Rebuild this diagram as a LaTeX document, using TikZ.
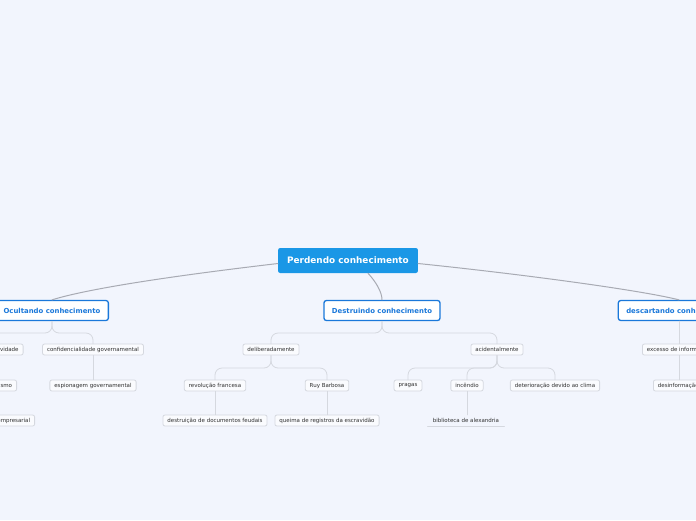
\documentclass[tikz,border=0pt]{standalone}
\usepackage{fontspec}
\setmainfont{DejaVu Sans}
\usepackage{xcolor}
\definecolor{mapbg}{HTML}{F2F5FD}
\definecolor{rootblue}{HTML}{1A97E6}
\definecolor{mainblue}{HTML}{1A78DA}
\definecolor{leafline}{HTML}{D5D8DF}
\definecolor{leaftext}{HTML}{303030}
\definecolor{rootlink}{HTML}{A8AAB3}

\begin{document}
\begin{tikzpicture}[x=1pt,y=-1pt,line cap=round,
  rootnode/.style={fill=rootblue,text=white,rounded corners=2pt,font=\fontsize{8.9}{10}\selectfont\bfseries,minimum height=25pt,inner xsep=9pt},
  mainnode/.style={draw=mainblue,fill=white,line width=1.3pt,rounded corners=2.5pt,text=mainblue,font=\fontsize{6.9}{8}\selectfont\bfseries,minimum height=20pt,inner xsep=8pt},
  leaf/.style={draw=leafline,fill=white!60!mapbg,line width=0.8pt,rounded corners=2pt,text=leaftext,font=\fontsize{5.5}{6}\selectfont,minimum height=11pt,inner xsep=4.5pt,inner ysep=0pt},
  bare/.style={text=leaftext,font=\fontsize{5.5}{6}\selectfont,minimum height=11pt,inner xsep=5pt,inner ysep=0pt},
  link/.style={draw=rootlink,line width=1pt},
  twig/.style={draw=leafline,line width=0.8pt,rounded corners=7pt}]
\fill[mapbg] (0,0) rectangle (696,520);
\clip (0,0) rectangle (696,520);

\node[rootnode] (perd) at (348,260.5) {Perdendo conhecimento};
\node[mainnode] (ocu) at (52,310.5) {Ocultando conhecimento};
\node[mainnode] (des) at (382,310.5) {Destruindo conhecimento};
\node[mainnode] (desc) at (679,310.5) {descartando conhecimento};

\node[leaf,anchor=east,text width=70pt,align=right] (vid) at (23.5,349.5) {vidade};
\node[leaf] (conf) at (93,349.5) {confidencialidade governamental};
\node[leaf,anchor=east,text width=70pt,align=right] (ism) at (17,385.5) {ismo};
\node[leaf] (esp) at (93,385.5) {espionagem governamental};
\node[leaf,anchor=east,text width=70pt,align=right] (emp) at (35,420.5) {empresarial};

\node[leaf] (delib) at (271,349.5) {deliberadamente};
\node[leaf] (acid) at (497,349.5) {acidentalmente};
\node[leaf] (rev) at (215,385.5) {revolução francesa};
\node[leaf] (ruy) at (327,385.5) {Ruy Barbosa};
\node[leaf] (feud) at (215,420.5) {destruição de documentos feudais};
\node[leaf] (esc) at (327,420.5) {queima de registros da escravidão};
\node[leaf] (prag) at (408,385.5) {pragas};
\node[leaf] (inc) at (467,385.5) {incêndio};
\node[leaf] (clima) at (555,385.5) {deterioração devido ao clima};
\node[bare] (bib) at (466,420.5) {biblioteca de alexandria};

\node[leaf,anchor=west] (exc) at (642,349.5) {excesso de informação};
\node[leaf,anchor=west] (desinf) at (653,385.5) {desinformação};

\draw[link] ([yshift=-3pt]perd.west) .. controls (180,275) and (90,288) .. (ocu.north);
\draw[link] ([xshift=20pt]perd.south) .. controls (376,282) and (382,292) .. (des.north);
\draw[link] ([yshift=-3pt]perd.east) .. controls (520,274) and (640,290) .. (desc.north);

\draw[twig] (ocu.south) -- (52,333) -- (vid.north |- 0,333) -- (vid.north);
\draw[twig] (ocu.south) -- (52,333) -- (93,333) -- (conf.north);
\draw[twig] (vid.south) -- (ism.north -| vid.south);
\draw[twig] (ism.south) -- (emp.north -| ism.south);
\draw[twig] (conf.south) -- (esp.north);

\draw[twig] (des.south) -- (382,333) -- (271,333) -- (delib.north);
\draw[twig] (des.south) -- (382,333) -- (497,333) -- (acid.north);
\draw[twig] (delib.south) -- (271,368) -- (215,368) -- (rev.north);
\draw[twig] (delib.south) -- (271,368) -- (327,368) -- (ruy.north);
\draw[twig] (rev.south) -- (feud.north);
\draw[twig] (ruy.south) -- (esc.north);
\draw[twig] (acid.south) -- (497,368) -- (408,368) -- (prag.north);
\draw[twig] (acid.south) -- (497,368) -- (467,368) -- (inc.north);
\draw[twig] (acid.south) -- (497,368) -- (555,368) -- (clima.north);
\draw[twig] (inc.south) -- (bib.north -| inc.south);
\draw[leafline,line width=1.3pt] (bib.south west) -- (bib.south east);

\draw[twig] (desc.south) -- (desc.south |- exc.north);
\draw[twig] (exc.south -| desc.south) -- (desinf.north -| desc.south);
\end{tikzpicture}
\end{document}
